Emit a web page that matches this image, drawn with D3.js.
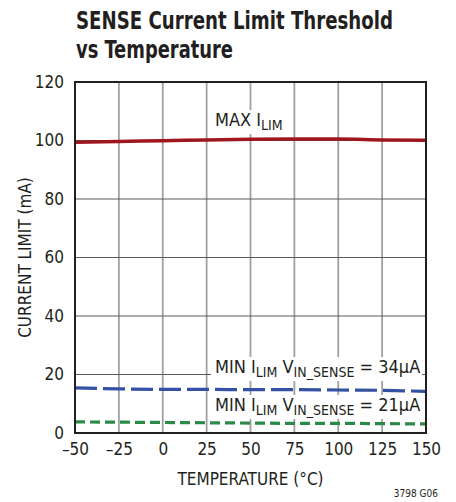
<!DOCTYPE html>
<html>
<head>
<meta charset="utf-8">
<script src="https://cdn.jsdelivr.net/npm/d3@7"></script>
<style>
  body { margin: 0; background: #fff; }
  svg text { font-family: "Liberation Sans Narrow", "DejaVu Sans Condensed", "Liberation Sans", sans-serif; fill: #231f20; }
</style>
</head>
<body>
<script>
var temps = [-50, -25, 0, 25, 50, 75, 100, 125, 150];
var maxIlim = [99.4, 99.7, 99.9, 100.2, 100.4, 100.5, 100.5, 100.2, 100.1];
var min34 = [15.4, 15.1, 14.9, 14.9, 14.8, 14.8, 14.7, 14.6, 14.2];
var min21 = [3.8, 3.7, 3.6, 3.5, 3.4, 3.3, 3.3, 3.2, 3.1];
var xTicks = [-50, -25, 0, 25, 50, 75, 100, 125, 150];
var yTicks = [0, 20, 40, 60, 80, 100, 120];

var svg = d3.select("body").append("svg")
    .attr("width", 456)
    .attr("height", 502);

var plotL = 75, plotR = 426, plotT = 82, plotB = 433;

var x = d3.scaleLinear().domain([-50, 150]).range([plotL, plotR]);
var y = d3.scaleLinear().domain([0, 120]).range([plotB, plotT]);

// title
svg.append("text").attr("x", 76).attr("y", 29)
  .style("font-size", "24px").style("font-weight", "bold")
  .attr("textLength", 317).attr("lengthAdjust", "spacingAndGlyphs")
  .text("SENSE Current Limit Threshold");
svg.append("text").attr("x", 76).attr("y", 58)
  .style("font-size", "24px").style("font-weight", "bold")
  .attr("textLength", 157).attr("lengthAdjust", "spacingAndGlyphs")
  .text("vs Temperature");

// grid
svg.append("g").selectAll("line")
  .data(xTicks.slice(1, -1))
  .enter().append("line")
    .attr("x1", function (d) { return x(d); })
    .attr("x2", function (d) { return x(d); })
    .attr("y1", plotT).attr("y2", plotB)
    .attr("stroke", "#a0a0a0").attr("stroke-width", 1.8);

svg.append("g").selectAll("line")
  .data(yTicks.slice(1, -1))
  .enter().append("line")
    .attr("x1", plotL).attr("x2", plotR)
    .attr("y1", function (d) { return y(d); })
    .attr("y2", function (d) { return y(d); })
    .attr("stroke", "#5a5a5a").attr("stroke-width", 1.2);

// axes (labels only, frame drawn separately)
var xAxis = svg.append("g")
  .attr("transform", "translate(0," + plotB + ")")
  .call(d3.axisBottom(x).tickValues(xTicks).tickSize(0).tickPadding(9)
    .tickFormat(function (d) { return d < 0 ? "\u2013" + Math.abs(d) : d; }));
xAxis.select(".domain").remove();
xAxis.selectAll("text").style("font-size", "17px").attr("dy", "0.75em");

var yAxis = svg.append("g")
  .attr("transform", "translate(" + plotL + ",0)")
  .call(d3.axisLeft(y).tickValues(yTicks).tickSize(0).tickPadding(11));
yAxis.select(".domain").remove();
yAxis.selectAll("text").style("font-size", "17px");

svg.append("text")
  .attr("x", (plotL + plotR) / 2).attr("y", 485)
  .attr("text-anchor", "middle")
  .style("font-size", "17px")
  .text("TEMPERATURE (\u00B0C)");

svg.append("text")
  .attr("transform", "translate(31," + ((plotT + plotB) / 2) + ") rotate(-90)")
  .attr("text-anchor", "middle")
  .style("font-size", "17px")
  .text("CURRENT LIMIT (mA)");

svg.append("text")
  .attr("x", 438).attr("y", 497)
  .attr("text-anchor", "end")
  .style("font-size", "10px")
  .text("3798 G06");

// labels with white backing boxes
var labelLayer = svg.append("g");
function label(xp, yp, parts) {
  var t = labelLayer.append("text").attr("x", xp).attr("y", yp).style("font-size", "18px");
  parts.forEach(function (p) {
    var s = t.append("tspan").text(p[0]);
    if (p[1]) s.style("font-size", "14px").attr("dy", 4);
    else if (p[2]) s.attr("dy", -4);
  });
  return t;
}
var labels = [
  label(215, 126, [["MAX I"], ["LIM", true]]),
  label(215, 373, [["MIN I"], ["LIM", true], [" V", false, true], ["IN_SENSE", true], [" = 34\u00B5A", false, true]]),
  label(215, 411, [["MIN I"], ["LIM", true], [" V", false, true], ["IN_SENSE", true], [" = 21\u00B5A", false, true]])
];
labels.forEach(function (t) {
  var b = t.node().getBBox();
  labelLayer.insert("rect", "text")
    .attr("x", b.x - 4).attr("y", b.y + 1)
    .attr("width", b.width + 6).attr("height", b.height)
    .attr("fill", "#fff");
});
labelLayer.selectAll("text").raise();

// data lines
var line = d3.line()
  .x(function (d, i) { return x(temps[i]); })
  .y(function (d) { return y(d); })
  .curve(d3.curveMonotoneX);

var curves = svg.append("g");
curves.append("path").datum(maxIlim)
  .attr("d", line).attr("fill", "none")
  .attr("stroke", "#a0161f").attr("stroke-width", 3.5);
curves.append("path").datum(min34)
  .attr("d", line).attr("fill", "none")
  .attr("stroke", "#3451a2").attr("stroke-width", 3.2)
  .attr("stroke-dasharray", "22,6");
curves.append("path").datum(min21)
  .attr("d", line).attr("fill", "none")
  .attr("stroke", "#2b8a48").attr("stroke-width", 3.2)
  .attr("stroke-dasharray", "10,5");

// frame
svg.append("rect")
  .attr("x", plotL).attr("y", plotT)
  .attr("width", plotR - plotL).attr("height", plotB - plotT)
  .attr("fill", "none").attr("stroke", "#231f20").attr("stroke-width", 2);
</script>
</body>
</html>
